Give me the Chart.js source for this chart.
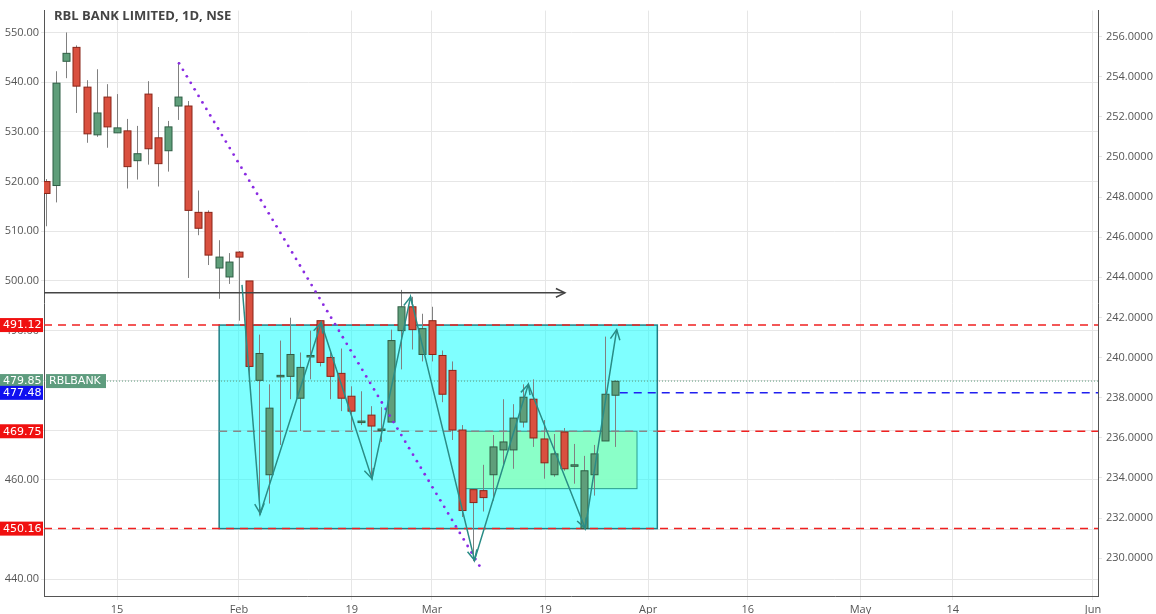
<!DOCTYPE html>
<html><head><meta charset="utf-8">
<script src="https://cdn.jsdelivr.net/npm/chart.js@4.4.1/dist/chart.umd.min.js"></script>
<style>html,body{margin:0;background:#fff}#wrap{width:1156px;height:614px}</style>
</head><body><div id="wrap"><canvas id="c"></canvas></div>
<script>
// daily OHLC, index 0 = 4 Jan
const opens  = [520,519.2,544.2,547,539,529.4,537,529.8,530.2,524.2,537.6,528.8,526.2,535.2,535.2,513.8,513.8,502.6,500.8,505.8,
  500,480,461,481,480.8,476.4,485,492,484.6,481.4,476.8,471.8,473,470.2,471.6,490,494.8,485.2,492,485,
  482,470,458,457.8,461,466,466,471.6,476.2,468.2,461,469.6,463,450.2,461,467.8,477];
const closes = [517.6,539.8,545.8,539.2,529.6,533.8,531,530.8,523,525.6,526.6,523.6,531,537,514.2,510.6,505.2,504.8,503.8,504.8,
  482.8,485.4,474.4,481,485.2,482.6,485,483.6,480.8,476.4,473.8,471.8,470.8,470.2,488,494.8,490.2,490.4,485.2,477.2,
  470,453.8,455.4,456.4,466.6,467.6,472.4,476.6,468.4,463.4,465.2,462.2,463,461.8,465.2,477.2,479.8];
const highs  = [520.5,542.2,550,547.4,540.4,542.6,539.6,537.6,532.6,531.2,540.2,535,532.2,544,536.2,518.2,514.2,508.2,505.6,506,
  500,489.2,479.2,488,492.6,485.6,490,492,485.8,486.4,478.8,477.8,474.8,474.6,490.2,498.2,496.8,493.4,494.8,486,
  483.8,471,458,463,469,476.2,475.2,479.2,480.2,472,469.2,470.4,467.2,464.8,467,488.8,480];
const lows   = [511,515.8,540.8,533.8,527.8,529,526.8,529.8,518.6,520.4,523.4,519,522,532.4,500.6,509.2,503.2,496.4,499.4,492,
  479.6,452.8,455.2,467,476.2,469.8,480.2,482.8,476.2,473.8,470,471,460.2,467.6,471.6,482.2,486.2,483.8,483.8,475.6,
  468,452.5,443.6,453.6,455.8,462.8,462.2,470.5,466.6,460.2,460.6,461.8,459.2,450,456.8,467.8,466.6];

// x tick positions (bar index) and labels
const tickPos    = [7, 19, 30.1, 38, 49.2, 59.3, 69.1, 80.2, 89.3, 103.1];
const tickLabels = ['15','Feb','19','Mar','19','Apr','16','May','14','Jun'];

// drawing levels
const levelRed   = [491.12, 469.75, 450.16];
const levelBlue  = 477.48;
const lastPrice  = 479.85;
const arrowLevel = 497.6;
// zigzag pattern points [bar index, price]
const zigX = [19.3, 21.1, 27.1, 32.1, 35.9, 42.2, 47.5, 53.1, 56.2];
const zigY = [499.2, 453.2, 491.6, 460.2, 496.8, 443.8, 479.2, 450.2, 490.2];
// purple trend line
const trendX = [13.1, 43];
const trendY = [543.8, 441.6];
// boxes [x0, x1, yTop, yBottom]
const bigBox   = [17.05, 60.2, 491.12, 450.16];
const smallBox = [41.1, 58.2, 469.75, 458.2];

const idx = opens.map((_, i) => i);

function arrowHead(ctx, x1, y1, x2, y2, len) {
  const a = Math.atan2(y2 - y1, x2 - x1);
  ctx.beginPath();
  ctx.moveTo(x2 - len * Math.cos(a - 0.45), y2 - len * Math.sin(a - 0.45));
  ctx.lineTo(x2, y2);
  ctx.lineTo(x2 - len * Math.cos(a + 0.45), y2 - len * Math.sin(a + 0.45));
  ctx.stroke();
}

function tag(ctx, x, y, w, text, bg) {
  ctx.fillStyle = bg;
  ctx.fillRect(x, y - 7, w, 14);
  ctx.fillStyle = '#fff';
  ctx.font = '11px "DejaVu Sans"';
  ctx.textAlign = 'left';
  ctx.textBaseline = 'middle';
  ctx.fillText(text, x + 3, y + 0.5);
}

const drawings = {
  id: 'drawings',
  beforeDatasetsDraw(chart) {
    const { ctx, chartArea: a, scales: { x, y } } = chart;
    ctx.save();
    ctx.beginPath(); ctx.rect(a.left, a.top, a.right - a.left, a.bottom - a.top); ctx.clip();
    // boxes
    const bx = [x.getPixelForValue(bigBox[0]), x.getPixelForValue(bigBox[1]), y.getPixelForValue(bigBox[2]), y.getPixelForValue(bigBox[3])];
    ctx.fillStyle = 'rgba(0,255,255,0.5)';
    ctx.fillRect(bx[0], bx[2], bx[1] - bx[0], bx[3] - bx[2]);
    ctx.strokeStyle = '#1f7f86'; ctx.lineWidth = 1.5;
    ctx.strokeRect(bx[0], bx[2], bx[1] - bx[0], bx[3] - bx[2]);
    const sx = [x.getPixelForValue(smallBox[0]), x.getPixelForValue(smallBox[1]), y.getPixelForValue(smallBox[2]), y.getPixelForValue(smallBox[3])];
    ctx.fillStyle = 'rgba(140,255,190,0.85)';
    ctx.fillRect(sx[0], sx[2], sx[1] - sx[0], sx[3] - sx[2]);
    ctx.strokeStyle = '#2a9d8f'; ctx.lineWidth = 1;
    ctx.strokeRect(sx[0], sx[2], sx[1] - sx[0], sx[3] - sx[2]);
    // level lines
    ctx.setLineDash([8, 6]); ctx.lineWidth = 1.5;
    levelRed.forEach((v, i) => {
      const py = y.getPixelForValue(v);
      ctx.strokeStyle = '#f02020';
      ctx.beginPath(); ctx.moveTo(i === 1 ? bx[1] : a.left, py); ctx.lineTo(a.right, py); ctx.stroke();
      if (i === 1) {
        ctx.strokeStyle = '#888';
        ctx.beginPath(); ctx.moveTo(bx[0], py); ctx.lineTo(bx[1], py); ctx.stroke();
      }
    });
    ctx.strokeStyle = '#2020f0';
    const pb = y.getPixelForValue(levelBlue);
    ctx.beginPath(); ctx.moveTo(x.getPixelForValue(56.5), pb); ctx.lineTo(a.right, pb); ctx.stroke();
    ctx.setLineDash([1, 2]); ctx.lineWidth = 1; ctx.strokeStyle = '#5e9c7e';
    const pl = y.getPixelForValue(lastPrice);
    ctx.beginPath(); ctx.moveTo(a.left, pl); ctx.lineTo(a.right, pl); ctx.stroke();
    ctx.setLineDash([]);
    // candles
    idx.forEach(i => {
      const cx = Math.round(x.getPixelForValue(i)) + 0.5;
      const up = closes[i] >= opens[i];
      ctx.strokeStyle = '#808080'; ctx.lineWidth = 1;
      ctx.beginPath(); ctx.moveTo(cx, y.getPixelForValue(highs[i])); ctx.lineTo(cx, y.getPixelForValue(lows[i])); ctx.stroke();
      const t = y.getPixelForValue(Math.max(opens[i], closes[i]));
      const b = y.getPixelForValue(Math.min(opens[i], closes[i]));
      ctx.fillStyle = up ? '#5f9e7a' : '#d9503f';
      ctx.strokeStyle = up ? '#2f5e45' : '#8a2518';
      ctx.fillRect(cx - 3.5, t, 7, Math.max(b - t, 1.5));
      ctx.strokeRect(cx - 3.5, t, 7, Math.max(b - t, 1.5));
    });
    // horizontal arrow
    const ay = y.getPixelForValue(arrowLevel);
    ctx.strokeStyle = '#444'; ctx.lineWidth = 1.5;
    ctx.beginPath(); ctx.moveTo(a.left, ay); ctx.lineTo(x.getPixelForValue(51.1), ay); ctx.stroke();
    arrowHead(ctx, a.left, ay, x.getPixelForValue(51.1), ay, 10);
    // purple dotted trend
    ctx.fillStyle = '#8a2be2';
    const p0 = [x.getPixelForValue(trendX[0]), y.getPixelForValue(trendY[0])];
    const p1 = [x.getPixelForValue(trendX[1]), y.getPixelForValue(trendY[1])];
    const len = Math.hypot(p1[0] - p0[0], p1[1] - p0[1]);
    for (let d = 0; d <= len; d += 7.6) {
      ctx.beginPath();
      ctx.arc(p0[0] + (p1[0] - p0[0]) * d / len, p0[1] + (p1[1] - p0[1]) * d / len, 1.4, 0, 7);
      ctx.fill();
    }
    // zigzag
    ctx.strokeStyle = '#2a8c86'; ctx.lineWidth = 1.5;
    ctx.beginPath();
    zigX.forEach((v, i) => {
      const px = x.getPixelForValue(v), py = y.getPixelForValue(zigY[i]);
      i ? ctx.lineTo(px, py) : ctx.moveTo(px, py);
    });
    ctx.stroke();
    for (let i = 1; i < zigX.length; i++) {
      arrowHead(ctx, x.getPixelForValue(zigX[i - 1]), y.getPixelForValue(zigY[i - 1]),
        x.getPixelForValue(zigX[i]), y.getPixelForValue(zigY[i]), 11);
    }
    ctx.restore();
    // title
    ctx.fillStyle = '#444';
    ctx.font = 'bold 13px "Open Sans"';
    ctx.textAlign = 'left'; ctx.textBaseline = 'middle';
    ctx.fillText('RBL BANK LIMITED, 1D, NSE', 54, 16);
  },
  afterDraw(chart) {
    const { ctx, scales: { y } } = chart;
    ctx.save();
    tag(ctx, 0, y.getPixelForValue(levelRed[0]), 43, levelRed[0].toFixed(2), '#f01010');
    tag(ctx, 0, y.getPixelForValue(levelRed[1]), 43, levelRed[1].toFixed(2), '#f01010');
    tag(ctx, 0, y.getPixelForValue(levelRed[2]), 43, levelRed[2].toFixed(2), '#f01010');
    tag(ctx, 0, y.getPixelForValue(lastPrice), 43, lastPrice.toFixed(2), '#5e9c7e');
    tag(ctx, 46, y.getPixelForValue(lastPrice), 60, 'RBLBANK', '#5e9c7e');
    tag(ctx, 0, y.getPixelForValue(levelBlue), 43, levelBlue.toFixed(2), '#1010f0');
    ctx.restore();
  }
};

new Chart(document.getElementById('c'), {
  type: 'line',
  data: { datasets: [{ data: [], yAxisID: 'y' }, { data: [], yAxisID: 'y2' }] },
  options: {
    responsive: true, maintainAspectRatio: false, animation: false,
    plugins: { legend: { display: false }, tooltip: { enabled: false } },
    scales: {
      x: {
        type: 'linear', min: -0.2, max: 103.6,
        afterBuildTicks: s => { s.ticks = tickPos.map(v => ({ value: v })); },
        afterFit: s => { s.height = 18; },
        ticks: { color: '#555', font: { family: 'Open Sans', size: 11 }, maxRotation: 0, autoSkip: false,
          callback: (v, i) => tickLabels[i] },
        grid: { color: '#e6e6e6', drawTicks: true, tickLength: 4 },
        border: { color: '#555' }
      },
      y: {
        position: 'left', min: 436.6, max: 554.4,
        afterBuildTicks: s => { s.ticks = [440,450,460,470,480,490,500,510,520,530,540,550].map(v => ({ value: v })); },
        afterFit: s => { s.width = 44; },
        ticks: { color: '#555', font: { family: 'Open Sans', size: 11 }, padding: 2, callback: v => v.toFixed(2) },
        grid: { color: '#e6e6e6', tickLength: 3 },
        border: { color: '#555' }
      },
      y2: {
        position: 'right', min: 228.12, max: 257.29,
        afterBuildTicks: s => { s.ticks = [230,232,234,236,238,240,242,244,246,248,250,252,254,256].map(v => ({ value: v })); },
        afterFit: s => { s.width = 58; },
        ticks: { color: '#555', font: { family: 'Open Sans', size: 11 }, padding: 4, callback: v => v.toFixed(4) },
        grid: { drawOnChartArea: false, tickLength: 4 },
        border: { color: '#555' }
      }
    }
  },
  plugins: [drawings]
});
</script></body></html>
